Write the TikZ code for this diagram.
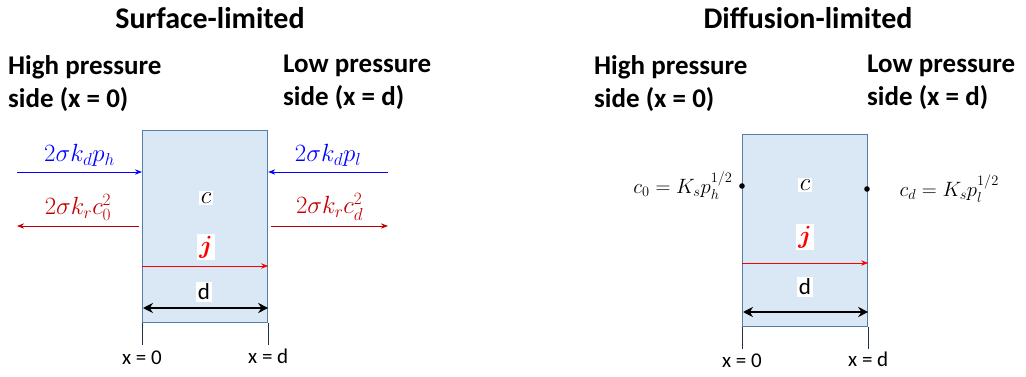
\documentclass[tikz,border=0pt]{standalone}
\usepackage{fontspec}
\setmainfont{Carlito}
\usepackage{amsmath,bm}
\usetikzlibrary{arrows.meta,positioning}
\definecolor{slabedge}{RGB}{84,126,166}
\definecolor{slabfill}{RGB}{218,231,244}
\definecolor{darkred}{RGB}{192,0,0}
\begin{document}
\begin{tikzpicture}[
            x=1pt, y=-1pt,
            >=Stealth,
            slab/.style={draw=slabedge, fill=slabfill, line width=1.2pt, minimum width=125pt, minimum height=192pt, inner sep=0pt, anchor=north west},
            title/.style={font=\fontsize{30}{36}\selectfont\bfseries},
            side/.style={font=\fontsize{27}{33}\selectfont\bfseries, align=left, anchor=north west, inner sep=0pt},
            eq/.style={font=\fontsize{23}{27}\selectfont, inner sep=1pt},
            sol/.style={font=\fontsize{22.5}{27}\selectfont},
            tag/.style={fill=white, inner sep=2pt, font=\fontsize{23}{27}\selectfont},
            xmark/.style={font=\fontsize{21}{25}\selectfont},
            flux/.style={->, line width=0.9pt},
            dimarrow/.style={<->, line width=2pt, >={Stealth[length=10pt,width=10pt]}}
        ]
        \useasboundingbox (0,0) rectangle (1026,377);

        % surface-limited
        \node[title] (t1) at (210,18) {Surface-limited};
        \node[side] (hp1) at (8,55) {High pressure\\side (x = 0)};
        \node[side] (lp1) at (283,55) {Low pressure\\side (x = d)};
        \node[slab] (s1) at (142,130) {};

        \coordinate (ih) at (17,172);
        \coordinate (il) at (388,172);
        \coordinate (oh) at (17,226);
        \coordinate (ol) at (388,226);
        \draw[flux, blue] (ih) -- (ih -| s1.west) node[midway, above=4pt, eq] {$2\sigma k_d p_h$};
        \draw[flux, blue] (il) -- (il -| s1.east) node[midway, above=4pt, eq] {$2\sigma k_d p_l$};
        \draw[flux, darkred] ([xshift=-3pt]oh -| s1.west) -- (oh) node[midway, above=4pt, eq] {$2\sigma k_r c_0^2$};
        \draw[flux, darkred] ([xshift=3pt]ol -| s1.east) -- (ol) node[midway, above=4pt, eq] {$2\sigma k_r c_d^2$};

        \node[tag] (c1) at (206,198) {$c$};
        \node[tag, text=red, font=\fontsize{27}{30}\selectfont] (j1) at (206,247) {$\bm{j}$};
        \coordinate (j1a) at (142,266);
        \draw[flux, red] (j1a) -- (j1a -| s1.east);
        \node[tag] (d1) at (204,292) {d};
        \coordinate (d1a) at (143,308);
        \draw[dimarrow] (d1a) -- (d1a -| s1.east);

        \coordinate (x01) at ([yshift=-22pt]s1.south west);
        \coordinate (xd1) at ([yshift=-22pt]s1.south east);
        \draw[slabedge!40!black, line width=0.6pt] (s1.south west) -- (x01);
        \draw[slabedge!40!black, line width=0.6pt] (s1.south east) -- (xd1);
        \node[xmark, below=2pt of x01] {x = 0};
        \node[xmark, below=0pt of xd1] {x = d};

        % diffusion-limited
        \node[title] (t2) at (808,18) {Diffusion-limited};
        \node[side] (hp2) at (594,55) {High pressure\\side (x = 0)};
        \node[side] (lp2) at (867,55) {Low pressure\\side (x = d)};
        \node[slab] (s2) at (742,134) {};

        \fill (742,186) coordinate (p0) circle (2.8pt);
        \fill (867,189) coordinate (pd) circle (2.8pt);
        \node[sol, left=6pt of p0] (c0) {$c_0 = K_s p_h^{1/2}$};
        \node[sol, right=29pt of pd] (cd) {$c_d = K_s p_l^{1/2}$};

        \node[tag] (c2) at (805,185) {$c$};
        \node[tag, text=red, font=\fontsize{27}{30}\selectfont] (j2) at (805,237) {$\bm{j}$};
        \coordinate (j2a) at (742,263);
        \draw[flux, red] (j2a) -- (j2a -| s2.east);
        \node[tag] (d2) at (805,287) {d};
        \coordinate (d2a) at (743,312);
        \draw[dimarrow] (d2a) -- (d2a -| s2.east);

        \coordinate (x02) at ([yshift=-22pt]s2.south west);
        \coordinate (xd2) at ([yshift=-22pt]s2.south east);
        \draw[slabedge!40!black, line width=0.6pt] (s2.south west) -- (x02);
        \draw[slabedge!40!black, line width=0.6pt] (s2.south east) -- (xd2);
        \node[xmark, below=1pt of x02] {x = 0};
        \node[xmark, below=-1pt of xd2] {x = d};
    \end{tikzpicture}
\end{document}
